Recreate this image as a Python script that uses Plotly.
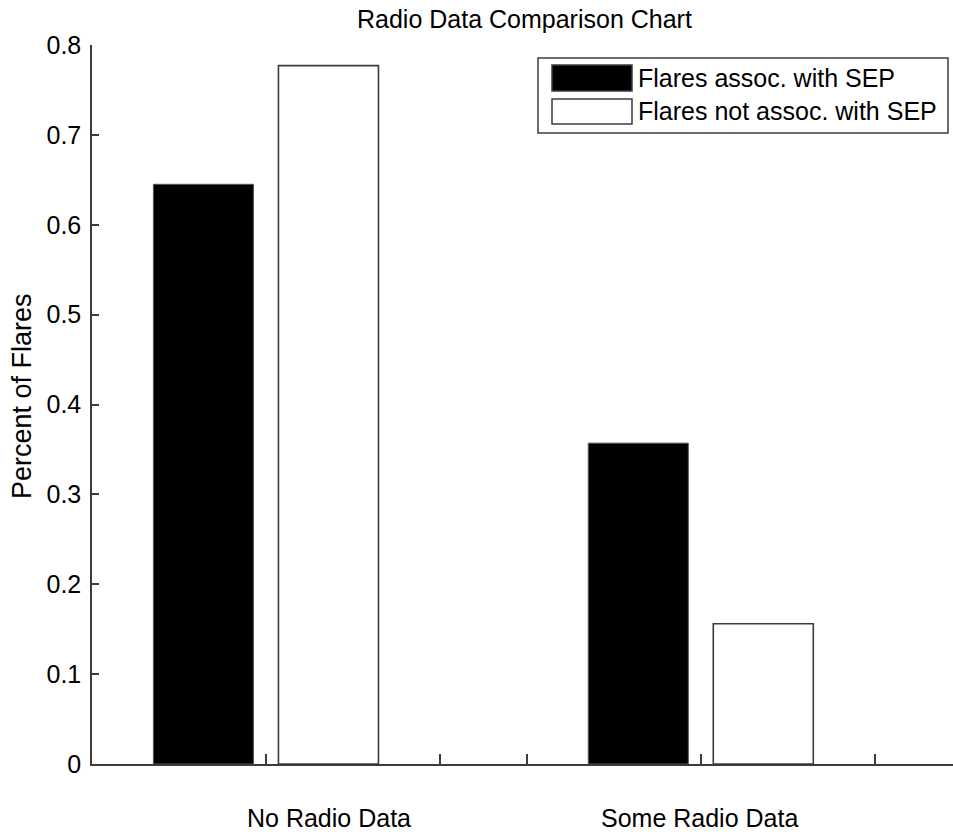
import plotly.graph_objects as go

# ---- data ----
categories = ["No Radio Data", "Some Radio Data"]
cat_pos = [1, 2]
series_names = ["Flares assoc. with SEP", "Flares not assoc. with SEP"]
sep_values = [0.645, 0.357]
nonsep_values = [0.777, 0.156]
y_ticks = [0, 0.1, 0.2, 0.3, 0.4, 0.5, 0.6, 0.7, 0.8]
y_tick_labels = ["0", "0.1", "0.2", "0.3", "0.4", "0.5", "0.6", "0.7", "0.8"]
x_ticks = [1, 1.4, 1.6, 2, 2.4]
title = "Radio Data Comparison Chart"
y_title = "Percent of Flares"

W, H = 953, 832
L, R, T, B = 92, 0, 45, 68
FONT = "Liberation Sans, Arial, sans-serif"
TXT = "#000000"
EDGE = "#3c3c3c"

def px(x, y):
    """convert screen pixel position to paper coordinates"""
    return (x - L) / (W - L - R), (H - B - y) / (H - T - B)

fig = go.Figure()
fig.add_trace(go.Bar(x=cat_pos, y=sep_values, name=series_names[0],
                     marker=dict(color="#000000", line=dict(color="#555555", width=1)),
                     showlegend=False))
fig.add_trace(go.Bar(x=cat_pos, y=nonsep_values, name=series_names[1],
                     marker=dict(color="#ffffff", line=dict(color=EDGE, width=1.6)),
                     showlegend=False))

shapes = []
annotations = []

# legend box
x0, y0 = px(538, 58)
x1, y1 = px(948, 133)
shapes.append(dict(type="rect", xref="paper", yref="paper", x0=x0, y0=y1, x1=x1, y1=y0,
                   line=dict(color=EDGE, width=1.5), fillcolor="#ffffff", layer="above"))
rows = [(65, 91, "#000000"), (99, 124, "#ffffff")]
for (top, bot, col), name in zip(rows, series_names):
    a0, b0 = px(552, top)
    a1, b1 = px(632, bot)
    shapes.append(dict(type="rect", xref="paper", yref="paper", x0=a0, y0=b1, x1=a1, y1=b0,
                       line=dict(color=EDGE, width=1.5), fillcolor=col, layer="above"))
    tx, ty = px(636, (top + bot) / 2)
    annotations.append(dict(xref="paper", yref="paper", x=tx, y=ty, text=name,
                            showarrow=False, xanchor="left", yanchor="middle",
                            font=dict(family=FONT, size=25, color=TXT)))

# category labels below axis
label_px = [329, 699]
for cx, cat in zip(label_px, categories):
    ax, ay = px(cx, 818)
    annotations.append(dict(xref="paper", yref="paper", x=ax, y=ay, text=cat,
                            showarrow=False, xanchor="center", yanchor="middle",
                            font=dict(family=FONT, size=25, color=TXT)))

# title
tx, ty = px(524, 19)
annotations.append(dict(xref="paper", yref="paper", x=tx, y=ty, text=title,
                        showarrow=False, xanchor="center", yanchor="middle",
                        font=dict(family=FONT, size=25, color=TXT)))
# y title
tx, ty = px(22, 396)
annotations.append(dict(xref="paper", yref="paper", x=tx, y=ty, text=y_title,
                        showarrow=False, xanchor="center", yanchor="middle", textangle=-90,
                        font=dict(family=FONT, size=27, color=TXT)))

fig.update_layout(
    width=W, height=H,
    margin=dict(l=L, r=R, t=T, b=B),
    paper_bgcolor="#ffffff", plot_bgcolor="#ffffff",
    barmode="group", bargap=0.425, bargroupgap=0.2,
    shapes=shapes, annotations=annotations,
    font=dict(family=FONT, size=25, color=TXT),
    hovermode=False,
    xaxis=dict(range=[0.6, 2.58], tickvals=x_ticks, ticktext=[""] * len(x_ticks),
               ticks="inside", ticklen=10, tickwidth=1.5, tickcolor=EDGE,
               showline=True, linecolor=EDGE, linewidth=1.5, showgrid=False,
               zeroline=False, fixedrange=True),
    yaxis=dict(range=[0, 0.8], tickvals=y_ticks, ticktext=y_tick_labels,
               ticks="inside", ticklen=7, tickwidth=1.5, tickcolor=EDGE,
               showline=True, linecolor=EDGE, linewidth=1.5, showgrid=False,
               zeroline=False, tickfont=dict(family=FONT, size=25, color=TXT),
               ticklabelstandoff=4, fixedrange=True),
)

fig.write_html("out.html",
               config={"displayModeBar": False},
               post_script="document.body.style.margin='0';"
                           "document.documentElement.style.overflow='hidden';"
                           "document.body.style.overflow='hidden';")
